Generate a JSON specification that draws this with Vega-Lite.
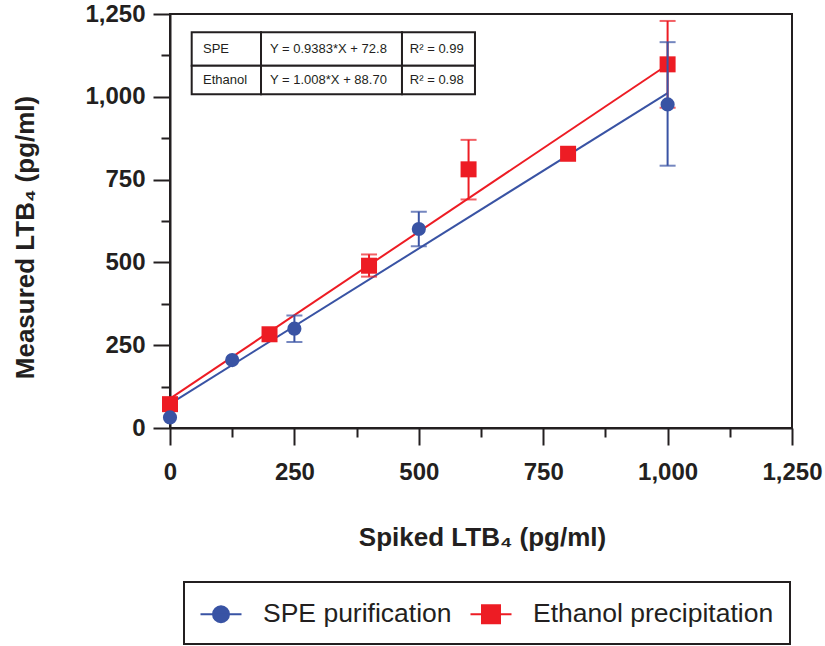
{
  "$schema": "https://vega.github.io/schema/vega-lite/v6.json",
  "width": 622,
  "height": 414,
  "autosize": {"type": "none"},
  "padding": {"left": 170, "top": 14, "right": 33, "bottom": 218},
  "background": "white",
  "config": {
    "font": "Liberation Sans",
    "view": {"stroke": "#231f20", "strokeWidth": 2}
  },
  "datasets": {
    "points": [
      {"series": "Ethanol precipitation", "x": 0, "y": 72},
      {"series": "Ethanol precipitation", "x": 200, "y": 283},
      {"series": "Ethanol precipitation", "x": 400, "y": 490, "lo": 457, "hi": 524},
      {"series": "Ethanol precipitation", "x": 600, "y": 781, "lo": 690, "hi": 870},
      {"series": "Ethanol precipitation", "x": 800, "y": 828},
      {"series": "Ethanol precipitation", "x": 1000, "y": 1098, "lo": 967, "hi": 1229},
      {"series": "SPE purification", "x": 0, "y": 32},
      {"series": "SPE purification", "x": 125, "y": 205},
      {"series": "SPE purification", "x": 250, "y": 300, "lo": 260, "hi": 340},
      {"series": "SPE purification", "x": 500, "y": 601, "lo": 549, "hi": 653},
      {"series": "SPE purification", "x": 1000, "y": 977, "lo": 792, "hi": 1165}
    ],
    "fits": [
      {"series": "Ethanol precipitation", "x": 0, "y": 88.7},
      {"series": "Ethanol precipitation", "x": 1000, "y": 1096.7},
      {"series": "SPE purification", "x": 0, "y": 72.8},
      {"series": "SPE purification", "x": 1000, "y": 1011.1}
    ],
    "table": [
      {"x0": 43.6, "x1": 182.9, "y0": 1093.9, "y1": 1194.8, "tx": 66.3, "ty": 1144, "label": "SPE"},
      {"x0": 182.9, "x1": 466.2, "y0": 1093.9, "y1": 1194.8, "tx": 201, "ty": 1144, "label": "Y = 0.9383*X + 72.8"},
      {"x0": 466.2, "x1": 612.9, "y0": 1093.9, "y1": 1194.8, "tx": 482, "ty": 1144, "label": "R² = 0.99"},
      {"x0": 43.6, "x1": 182.9, "y0": 1007.6, "y1": 1093.9, "tx": 66.3, "ty": 1051, "label": "Ethanol"},
      {"x0": 182.9, "x1": 466.2, "y0": 1007.6, "y1": 1093.9, "tx": 201, "ty": 1051, "label": "Y = 1.008*X + 88.70"},
      {"x0": 466.2, "x1": 612.9, "y0": 1007.6, "y1": 1093.9, "tx": 482, "ty": 1051, "label": "R² = 0.98"}
    ]
  },
  "layer": [
    {
      "data": {"name": "fits"},
      "mark": {"type": "line", "strokeWidth": 2},
      "encoding": {
        "x": {
          "field": "x", "type": "quantitative", "title": "Spiked LTB₄ (pg/ml)",
          "scale": {"domain": [0, 1250], "nice": false, "zero": false},
          "axis": {
            "values": [0, 125, 250, 375, 500, 625, 750, 875, 1000, 1125, 1250],
            "labelExpr": "datum.value % 250 === 0 ? format(datum.value, ',') : ''",
            "tickSize": {"condition": {"test": "datum.value % 250 === 0", "value": 17}, "value": 9},
            "labelPadding": 15,
            "labelFont": "Liberation Sans", "labelFontSize": 24, "labelFontWeight": "bold", "labelColor": "#231f20",
            "labelOverlap": false, "labelFlush": false, "labelBound": false,
            "domainColor": "#231f20", "domainWidth": 2, "tickColor": "#231f20", "tickWidth": 2, "grid": false,
            "title": "Spiked LTB₄ (pg/ml)",
            "titleFont": "Liberation Sans", "titleFontSize": 26, "titleFontWeight": "bold", "titleColor": "#231f20",
            "titleX": 312, "titleY": 117, "titleBaseline": "alphabetic", "titleAlign": "center"
          }
        },
        "y": {
          "field": "y", "type": "quantitative", "title": "Measured LTB₄ (pg/ml)",
          "scale": {"domain": [0, 1250], "nice": false, "zero": false},
          "axis": {
            "values": [0, 125, 250, 375, 500, 625, 750, 875, 1000, 1125, 1250],
            "labelExpr": "datum.value % 250 === 0 ? format(datum.value, ',') : ''",
            "tickSize": {"condition": {"test": "datum.value % 250 === 0", "value": 17}, "value": 9},
            "labelPadding": 8,
            "labelFont": "Liberation Sans", "labelFontSize": 24, "labelFontWeight": "bold", "labelColor": "#231f20",
            "labelOverlap": false, "labelFlush": false, "labelBound": false,
            "domainColor": "#231f20", "domainWidth": 2, "tickColor": "#231f20", "tickWidth": 2, "grid": false,
            "title": "Measured LTB₄ (pg/ml)",
            "titleFont": "Liberation Sans", "titleFontSize": 26, "titleFontWeight": "bold", "titleColor": "#231f20",
            "titleAngle": 270, "titleX": -145, "titleY": 223, "titleBaseline": "middle", "titleAlign": "center"
          }
        },
        "color": {
          "field": "series", "type": "nominal",
          "scale": {"domain": ["SPE purification", "Ethanol precipitation"], "range": ["#3953a4", "#ed1c24"]},
          "legend": {
            "title": null,
            "orient": "none",
            "legendX": 14,
            "legendY": 568,
            "direction": "horizontal",
            "symbolSize": 900,
            "symbolStrokeWidth": 2,
            "symbolOffset": 5,
            "labelOffset": 26,
            "columnPadding": 14,
            "padding": 16,
            "strokeColor": "#231f20",
            "labelFont": "Liberation Sans",
            "labelFontSize": 26.5,
            "labelColor": "#231f20",
            "labelLimit": 400,
            "encode": {
              "legend": {"update": {"strokeWidth": {"value": 2}, "fill": {"value": "white"}}},
              "symbols": {
                "update": {
                  "shape": {"signal": "datum.value === 'SPE purification' ? 'M-1.367,0L1.367,0M0.533,0A0.533,0.533,0,1,1,-0.533,0A0.533,0.533,0,1,1,0.533,0Z' : 'M-1.367,0L1.367,0M-0.6,-0.6L0.6,-0.6L0.6,0.6L-0.6,0.6Z'"},
                  "fill": {"signal": "scale('color', datum.value)"},
                  "stroke": {"signal": "scale('color', datum.value)"},
                  "strokeWidth": {"value": 2},
                  "opacity": {"value": 1},
                  "fillOpacity": {"value": 1}
                }
              }
            }
          }
        }
      }
    },
    {
      "data": {"name": "points"},
      "transform": [{"filter": "datum.series === 'Ethanol precipitation' && isValid(datum.lo)"}],
      "mark": {"type": "errorbar", "thickness": 2, "ticks": {"size": 16, "thickness": 2}},
      "encoding": {
        "x": {"field": "x", "type": "quantitative", "title": "Spiked LTB₄ (pg/ml)", "scale": {"domain": [0, 1250], "nice": false, "zero": false}},
        "y": {"field": "lo", "type": "quantitative", "title": "Measured LTB₄ (pg/ml)", "scale": {"domain": [0, 1250], "nice": false, "zero": false}},
        "y2": {"field": "hi"},
        "color": {"field": "series", "type": "nominal", "scale": {"domain": ["SPE purification", "Ethanol precipitation"], "range": ["#3953a4", "#ed1c24"]}}
      }
    },
    {
      "data": {"name": "points"},
      "transform": [{"filter": "datum.series === 'Ethanol precipitation'"}],
      "mark": {"type": "point", "shape": "square", "filled": true, "size": 256, "opacity": 1},
      "encoding": {
        "x": {"field": "x", "type": "quantitative", "title": "Spiked LTB₄ (pg/ml)", "scale": {"domain": [0, 1250], "nice": false, "zero": false}},
        "y": {"field": "y", "type": "quantitative", "title": "Measured LTB₄ (pg/ml)", "scale": {"domain": [0, 1250], "nice": false, "zero": false}},
        "color": {"field": "series", "type": "nominal", "scale": {"domain": ["SPE purification", "Ethanol precipitation"], "range": ["#3953a4", "#ed1c24"]}}
      }
    },
    {
      "data": {"name": "points"},
      "transform": [{"filter": "datum.series === 'SPE purification' && isValid(datum.lo)"}],
      "mark": {"type": "errorbar", "thickness": 2, "ticks": {"size": 16, "thickness": 2}},
      "encoding": {
        "x": {"field": "x", "type": "quantitative", "title": "Spiked LTB₄ (pg/ml)", "scale": {"domain": [0, 1250], "nice": false, "zero": false}},
        "y": {"field": "lo", "type": "quantitative", "title": "Measured LTB₄ (pg/ml)", "scale": {"domain": [0, 1250], "nice": false, "zero": false}},
        "y2": {"field": "hi"},
        "color": {"field": "series", "type": "nominal", "scale": {"domain": ["SPE purification", "Ethanol precipitation"], "range": ["#3953a4", "#ed1c24"]}}
      }
    },
    {
      "data": {"name": "points"},
      "transform": [{"filter": "datum.series === 'SPE purification'"}],
      "mark": {"type": "point", "shape": "circle", "filled": true, "size": 200, "opacity": 1},
      "encoding": {
        "x": {"field": "x", "type": "quantitative", "title": "Spiked LTB₄ (pg/ml)", "scale": {"domain": [0, 1250], "nice": false, "zero": false}},
        "y": {"field": "y", "type": "quantitative", "title": "Measured LTB₄ (pg/ml)", "scale": {"domain": [0, 1250], "nice": false, "zero": false}},
        "color": {"field": "series", "type": "nominal", "scale": {"domain": ["SPE purification", "Ethanol precipitation"], "range": ["#3953a4", "#ed1c24"]}}
      }
    },
    {
      "data": {"name": "table"},
      "mark": {"type": "rect", "fill": "white", "stroke": "#231f20", "strokeWidth": 2},
      "encoding": {
        "x": {"field": "x0", "type": "quantitative", "title": "Spiked LTB₄ (pg/ml)", "scale": {"domain": [0, 1250], "nice": false, "zero": false}},
        "x2": {"field": "x1"},
        "y": {"field": "y0", "type": "quantitative", "title": "Measured LTB₄ (pg/ml)", "scale": {"domain": [0, 1250], "nice": false, "zero": false}},
        "y2": {"field": "y1"}
      }
    },
    {
      "data": {"name": "table"},
      "mark": {"type": "text", "align": "left", "baseline": "middle", "font": "Liberation Sans", "fontSize": 13, "color": "#231f20"},
      "encoding": {
        "x": {"field": "tx", "type": "quantitative", "title": "Spiked LTB₄ (pg/ml)", "scale": {"domain": [0, 1250], "nice": false, "zero": false}},
        "y": {"field": "ty", "type": "quantitative", "title": "Measured LTB₄ (pg/ml)", "scale": {"domain": [0, 1250], "nice": false, "zero": false}},
        "text": {"field": "label"}
      }
    }
  ]
}
